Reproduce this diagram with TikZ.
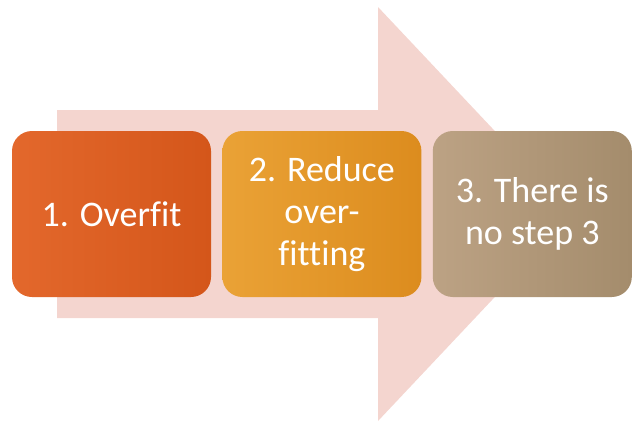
\documentclass[tikz,border=0pt]{standalone}
\usepackage{fontspec}
\setmainfont{Carlito}[Ligatures=NoCommon]
\usetikzlibrary{positioning}
\definecolor{arrowpink}{HTML}{F4D5CF}
\definecolor{orangeA}{HTML}{E3682C}
\definecolor{orangeB}{HTML}{D4561A}
\definecolor{amberA}{HTML}{EAA236}
\definecolor{amberB}{HTML}{DC8C1E}
\definecolor{tanA}{HTML}{BCA284}
\definecolor{tanB}{HTML}{A48C6C}
\begin{document}
\begin{tikzpicture}[x=1pt, y=-1pt,
    stepbox/.style={rounded corners=20pt, minimum width=199pt, minimum height=166pt,
        inner sep=0pt, align=center, text=white, font=\fontsize{36}{42}\selectfont},
    node distance=11pt]
    \useasboundingbox (0,0) rectangle (644,426);

    % Big arrow behind the steps
    \fill[arrowpink] (57,110) -- (378,110) -- (378,7) -- (573,214)
        -- (378,421) -- (378,318) -- (57,318) -- cycle;

    % Steps
    \node[stepbox, left color=orangeA, right color=orangeB] (overfit) at (111.5,214) {1. Overfit};
    \node[stepbox, left color=amberA, right color=amberB, right=of overfit] (reduce) {2. Reduce\\over-\\fitting};
    \node[stepbox, left color=tanA, right color=tanB, right=of reduce] (nostep) {3. There is\\no step 3};
\end{tikzpicture}
\end{document}
